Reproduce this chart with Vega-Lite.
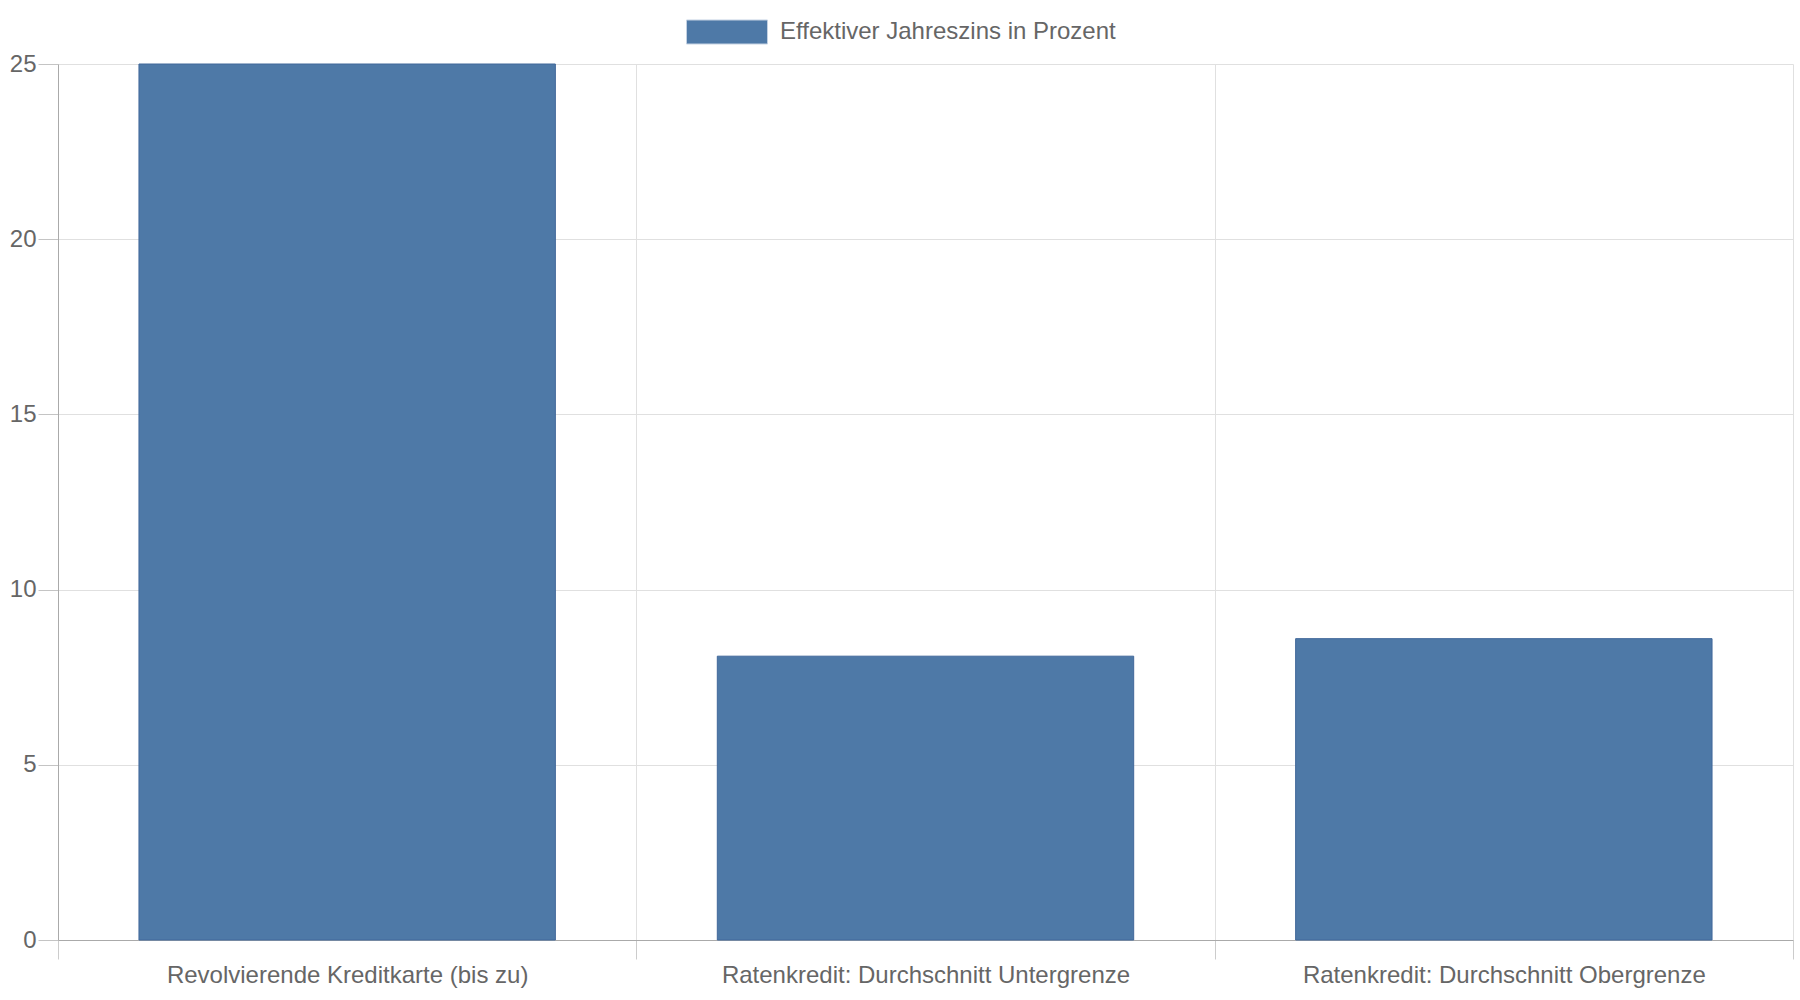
{
  "$schema": "https://vega.github.io/schema/vega-lite/v6.json",
  "autosize": {"type": "none"},
  "padding": {"left": 58, "top": 64, "right": 7, "bottom": 60},
  "width": 1735,
  "height": 876,
  "background": "white",
  "data": {
    "values": [
      {"kategorie": "Revolvierende Kreditkarte (bis zu)", "zins": 25, "reihe": "Effektiver Jahreszins in Prozent"},
      {"kategorie": "Ratenkredit: Durchschnitt Untergrenze", "zins": 8.1, "reihe": "Effektiver Jahreszins in Prozent"},
      {"kategorie": "Ratenkredit: Durchschnitt Obergrenze", "zins": 8.6, "reihe": "Effektiver Jahreszins in Prozent"}
    ]
  },
  "mark": {"type": "bar", "stroke": "#41689a", "strokeWidth": 1, "width": {"band": 0.72}},
  "encoding": {
    "x": {
      "field": "kategorie",
      "type": "nominal",
      "sort": null,
      "title": null,
      "scale": {"paddingInner": 0, "paddingOuter": 0},
      "axis": {
        "labelAngle": 0,
        "labelLimit": 0,
        "tickBand": "extent",
        "grid": true,
        "gridColor": "#e0e0e0",
        "domainColor": "#aaaaaa",
        "tickColor": "#cccccc",
        "tickSize": 19,
        "labelPadding": 4,
        "labelFontSize": 24,
        "labelColor": "#666666",
        "labelFont": "Liberation Sans"
      }
    },
    "y": {
      "field": "zins",
      "type": "quantitative",
      "title": null,
      "scale": {"domain": [0, 25], "nice": false},
      "axis": {
        "values": [0, 5, 10, 15, 20, 25],
        "grid": true,
        "gridColor": "#e0e0e0",
        "domainColor": "#aaaaaa",
        "tickColor": "#c4c4c4",
        "tickSize": 20,
        "labelPadding": 2,
        "labelFontSize": 24,
        "labelColor": "#666666",
        "labelFont": "Liberation Sans"
      }
    },
    "color": {
      "field": "reihe",
      "type": "nominal",
      "scale": {"range": ["#4e79a7"]},
      "legend": {
        "title": null,
        "orient": "none",
        "legendX": 628,
        "legendY": -73,
        "padding": 0,
        "labelLimit": 0,
        "symbolType": "M-1,-0.296L1,-0.296L1,0.296L-1,0.296Z",
        "symbolSize": 6561,
        "symbolOpacity": 1,
        "symbolStrokeColor": "#c3d1e2",
        "symbolStrokeWidth": 1,
        "labelOffset": 12,
        "labelFontSize": 24,
        "labelColor": "#666666",
        "labelFont": "Liberation Sans"
      }
    }
  },
  "config": {
    "view": {"stroke": null}
  }
}
